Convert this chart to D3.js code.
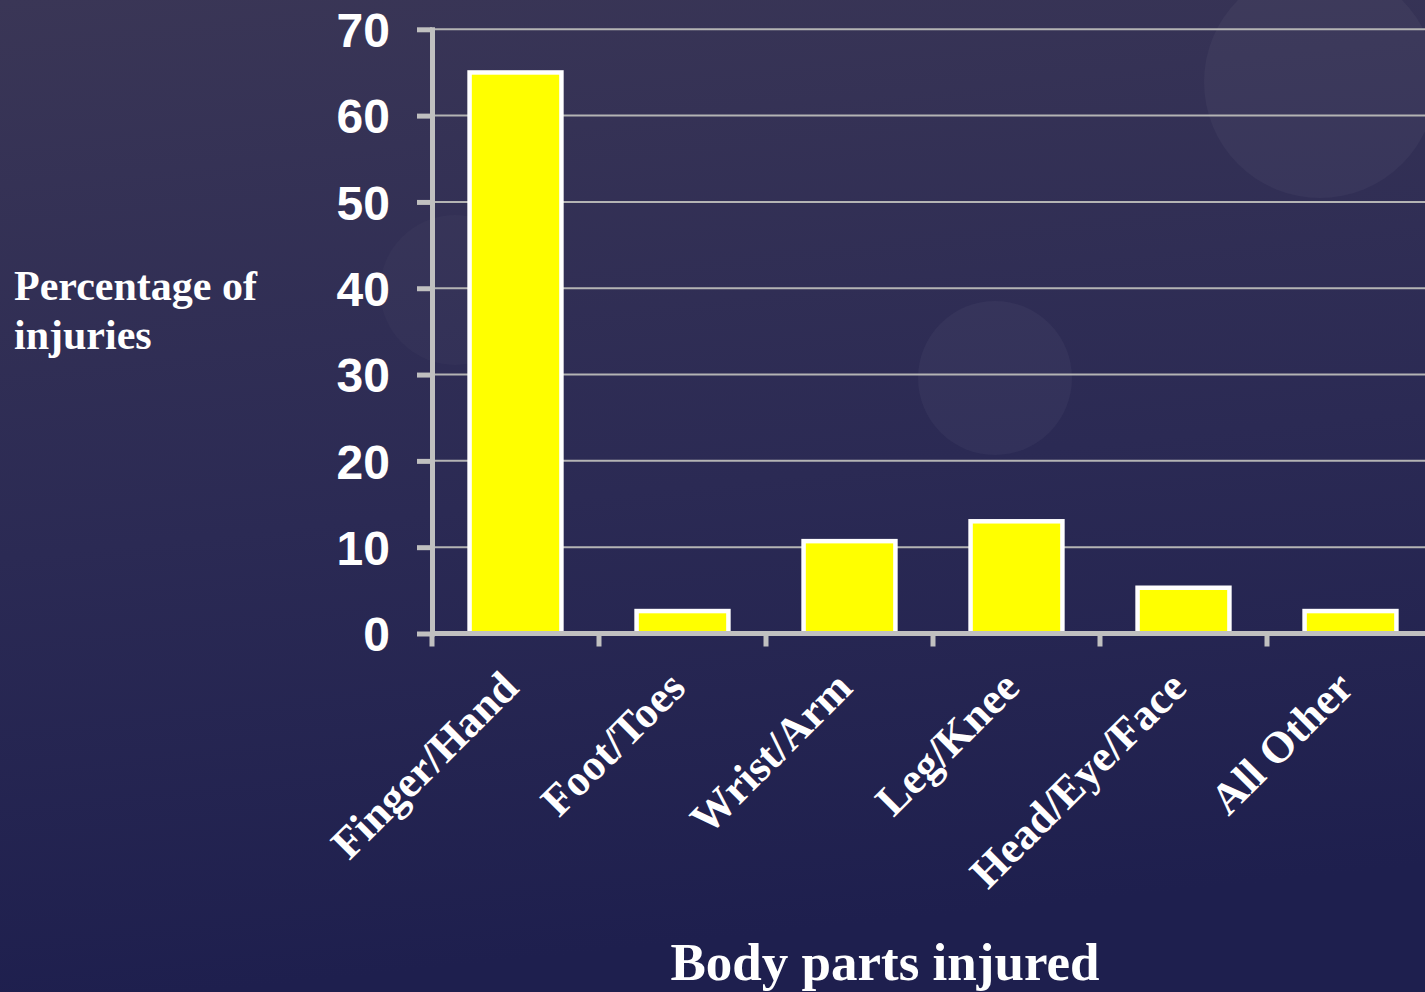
<!DOCTYPE html>
<html lang="en">
<head>
    <meta charset="UTF-8">
    <title>Body parts injured</title>
    <style>
        body, html {
            margin: 0;
            padding: 0;
            width: 100%;
            height: 100%;
            overflow: hidden;
        }
        #chart {
            display: block;
        }
        .ylabel, .ytick text {
            font-family: "Liberation Sans", Arial, sans-serif;
            font-weight: bold;
        }
        .serif {
            font-family: "Liberation Serif", "Times New Roman", serif;
            font-weight: bold;
        }
    </style>
</head>
<body>
    <svg id="chart" width="1425" height="992"></svg>

    <script src="https://cdnjs.cloudflare.com/ajax/libs/d3/7.8.5/d3.min.js"></script>
    <script>
        // data
        const categories = ["Finger/Hand", "Foot/Toes", "Wrist/Arm", "Leg/Knee", "Head/Eye/Face", "All Other"];
        const percentages = [65, 2.6, 10.7, 13, 5.3, 2.6];
        const yTicks = [0, 10, 20, 30, 40, 50, 60, 70];

        const width = 1425;
        const height = 992;
        const svg = d3.select("#chart");

        // background gradient + faint bubbles
        const defs = svg.append("defs");
        const grad = defs.append("linearGradient")
            .attr("id", "bg")
            .attr("x1", 0).attr("y1", 0)
            .attr("x2", 0.15).attr("y2", 1);
        grad.append("stop").attr("offset", "0%").attr("stop-color", "#3a3656");
        grad.append("stop").attr("offset", "55%").attr("stop-color", "#2b2a54");
        grad.append("stop").attr("offset", "100%").attr("stop-color", "#1e1f4e");

        svg.append("rect")
            .attr("width", width)
            .attr("height", height)
            .attr("fill", "url(#bg)");

        const bubbles = [[1320, 82, 116, 0.035], [995, 378, 77, 0.035], [455, 290, 75, 0.02]];
        svg.selectAll("circle.bubble")
            .data(bubbles)
            .enter()
            .append("circle")
            .attr("class", "bubble")
            .attr("cx", d => d[0])
            .attr("cy", d => d[1])
            .attr("r", d => d[2])
            .attr("fill", "#ffffff")
            .attr("fill-opacity", d => d[3]);

        // scales
        const x = d3.scaleBand()
            .domain(categories)
            .range([432, 1434])
            .paddingInner(0.45)
            .paddingOuter(0.225);

        const y = d3.scaleLinear()
            .domain([0, 70])
            .range([633.5, 29.3]);

        const axisColor = "#c0c0c0";

        // gridlines
        svg.append("g")
            .selectAll("line")
            .data(yTicks.filter(d => d > 0))
            .enter()
            .append("line")
            .attr("x1", 434)
            .attr("x2", width)
            .attr("y1", d => y(d))
            .attr("y2", d => y(d))
            .attr("stroke", "#b4b4b4")
            .attr("stroke-width", 2);

        // bars
        svg.append("g")
            .selectAll("rect")
            .data(percentages)
            .enter()
            .append("rect")
            .attr("x", (d, i) => x(categories[i]))
            .attr("y", d => y(d))
            .attr("width", x.bandwidth())
            .attr("height", d => y(0) - y(d))
            .attr("fill", "#ffff00")
            .attr("stroke", "#ffffff")
            .attr("stroke-width", 4.5);

        // y axis
        const yAxis = svg.append("g")
            .attr("class", "ytick")
            .attr("transform", "translate(432,0)")
            .call(d3.axisLeft(y).tickValues(yTicks).tickSize(15).tickSizeOuter(0).tickPadding(27));
        yAxis.select(".domain")
            .attr("stroke", axisColor)
            .attr("stroke-width", 5)
            .attr("stroke-linecap", "square");
        yAxis.selectAll(".tick line")
            .attr("stroke", axisColor)
            .attr("stroke-width", 5);
        yAxis.selectAll(".tick text")
            .attr("fill", "#ffffff")
            .attr("font-size", 48)
            .attr("dy", "0.36em");

        // x axis: line + ticks at band boundaries
        const xAxis = svg.append("g");
        xAxis.append("line")
            .attr("x1", 430)
            .attr("x2", width)
            .attr("y1", y(0))
            .attr("y2", y(0))
            .attr("stroke", axisColor)
            .attr("stroke-width", 5);
        const gap = (x.step() - x.bandwidth()) / 2;
        xAxis.selectAll("line.xtick")
            .data(categories)
            .enter()
            .append("line")
            .attr("class", "xtick")
            .attr("x1", d => x(d) - gap)
            .attr("x2", d => x(d) - gap)
            .attr("y1", y(0))
            .attr("y2", y(0) + 13)
            .attr("stroke", axisColor)
            .attr("stroke-width", 5);

        // rotated category labels
        xAxis.selectAll("text")
            .data(categories)
            .enter()
            .append("text")
            .attr("class", "serif")
            .attr("transform", d => `translate(${x(d) + x.bandwidth() / 2 + 5},690) rotate(-45)`)
            .attr("text-anchor", "end")
            .attr("fill", "#ffffff")
            .attr("font-size", 44)
            .text(d => d);

        // axis titles
        const yTitle = svg.append("text")
            .attr("class", "serif")
            .attr("fill", "#ffffff")
            .attr("font-size", 42);
        yTitle.append("tspan").attr("x", 14).attr("y", 300).text("Percentage of");
        yTitle.append("tspan").attr("x", 14).attr("y", 349).text("injuries");

        svg.append("text")
            .attr("class", "serif")
            .attr("x", 885)
            .attr("y", 980)
            .attr("text-anchor", "middle")
            .attr("fill", "#ffffff")
            .attr("font-size", 53)
            .text("Body parts injured");
    </script>
</body>
</html>
